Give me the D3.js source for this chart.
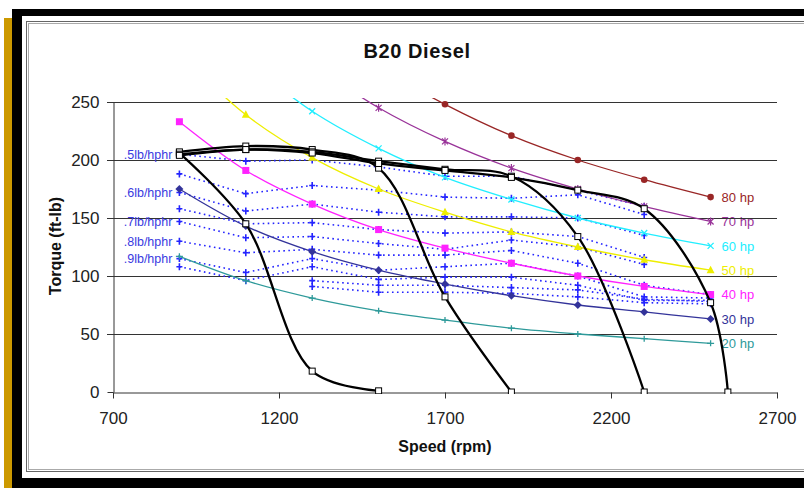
<!DOCTYPE html>
<html><head><meta charset="utf-8">
<script src="https://cdn.jsdelivr.net/npm/d3@7"></script>
<style>
body{margin:0;background:#fff;}
svg{display:block;}
text{font-family:"Liberation Sans",Arial,Helvetica,sans-serif;}
</style>
</head><body>
<svg id="c" width="804" height="488"></svg>
<script>
// ---------- DATA ----------
const rpm = [900,1100,1300,1500,1700,1900,2100,2300,2500];
const xTicks = [700,1200,1700,2200,2700];
const yTicks = [0,50,100,150,200,250];

// constant-horsepower lines (torque, ft-lb); values above 250 lie beyond the plot top
const hpNames = ["80 hp","70 hp","60 hp","50 hp","40 hp","30 hp","20 hp"];
const hp80 = [null,null,null,280,248,221,200,183,168];
const hp70 = [null,null,283,245,216,193,175,160,147];
const hp60 = [null,286,242,210,185,166,150,137,126];
const hp50 = [292,239,202,175,155,138,125,114,105];
const hp40 = [233,191,162,140,124,111,100,91,84];
const hp30 = [175,143,121,105,93,83,75,69,63];
const hp20 = [117,96,81,70,62,55,50,46,42];

// dotted fuel-consumption lines
const bsfc1  = [205,199,200,194,186,186,174,160,null];
const bsfc2  = [188,171,178,174,168,167,170,153,null];
const bsfc3  = [172,156,162,155,151,151,150,135,null];
const bsfc4  = [158,145,146,140,137,138,134,116,null];
const bsfc5  = [147,133,134,128,123,131,125,110,null];
const bsfc6  = [130,120,123,118,118,122,111,92,84];
const bsfc7  = [115,103,115,105,108,111,100,82,81];
const bsfc8  = [108,96,108,97,99,99,92,79,79];
const bsfc9  = [null,null,96,92,92,90,88,80,78];
const bsfc10 = [null,null,91,86,86,85,82,77,76];
const bsfcLabels = [".5lb/hphr",null,".6lb/hphr",null,".7lb/hphr",".8lb/hphr",".9lb/hphr",null,null,null];

// black torque curves
const curveArpm = [900,1100,1300,1500];
const curveAtq  = [206,145,18,1];
const curveBrpm = [900,1100,1300,1500,1700,1900];
const curveBtq  = [207,212,209,193,82,0];
const curveCrpm = [900,1100,1300,1500,1700,1900,2100,2300];
const curveCtq  = [205,209,207,199,192,186,134,0];
const curveDrpm = [900,1100,1300,1500,1700,1900,2100,2300,2500,2552];
const curveDtq  = [204,209,206,197,191,185,174,158,77,0];

// ---------- DRAW ----------
const svg = d3.select("#c");
const x = d3.scaleLinear().domain([700,2700]).range([113,777]);
const y = d3.scaleLinear().domain([0,250]).range([392,102]);

// frame
svg.append("rect").attr("x",4).attr("y",18).attr("width",8).attr("height",470).attr("fill","#cc9900");
svg.append("rect").attr("x",12).attr("y",9).attr("width",792).attr("height",7).attr("fill","#000");
svg.append("rect").attr("x",12).attr("y",9).attr("width",10).attr("height",479).attr("fill","#000");
svg.append("rect").attr("x",12).attr("y",478).attr("width",792).attr("height",10).attr("fill","#000");
svg.append("rect").attr("x",26.5).attr("y",21.5).attr("width",800).attr("height",450).attr("fill","none").attr("stroke","#666");
svg.append("rect").attr("x",28.5).attr("y",23.5).attr("width",800).attr("height",446).attr("fill","none").attr("stroke","#aaa");

// title
svg.append("text").attr("x",417).attr("y",58).attr("text-anchor","middle")
  .attr("font-size",20).attr("font-weight","bold").attr("letter-spacing","0.6px").attr("fill","#111").text("B20 Diesel");

// hp labels (under gridlines)
const hpSeries = [hp80,hp70,hp60,hp50,hp40,hp30,hp20];
const hpColors = ["#992626","#993399","#22eeff","#eeee00","#ff22ff","#33339a","#2e9a9a"];
const hpMarkers = ["circle","star","x","triangle","square","diamond","plus"];
const labG = svg.append("g");
hpSeries.forEach((s,i)=>{
  labG.append("text").attr("x",x(rpm[rpm.length-1])+11).attr("y",y(s[s.length-1])).attr("dy","0.36em")
    .attr("font-size",13).attr("fill",hpColors[i]).text(hpNames[i]);
});

// gridlines
const gridG = svg.append("g");
yTicks.filter(v=>v>0).forEach(v=>{
  gridG.append("line").attr("x1",107).attr("x2",777).attr("y1",Math.round(y(v))+0.5).attr("y2",Math.round(y(v))+0.5)
    .attr("stroke","#333").attr("stroke-width",1);
});

// axes
const yAxis = svg.append("g").attr("transform","translate(113.5,0)")
  .call(d3.axisLeft(y).tickValues(yTicks).tickSize(6).tickSizeOuter(0).tickPadding(8));
const xAxis = svg.append("g").attr("transform","translate(0,392.5)")
  .call(d3.axisBottom(x).tickValues(xTicks).tickSize(6).tickSizeOuter(0).tickPadding(13).tickFormat(d3.format("d")));
[yAxis,xAxis].forEach(a=>{
  a.selectAll("path").attr("stroke","#333");
  a.selectAll("line").attr("stroke","#333");
  a.selectAll("text").attr("font-size",17).attr("fill","#222").attr("font-family","'Liberation Sans',Arial,sans-serif");
});

svg.append("text").attr("x",445).attr("y",452).attr("text-anchor","middle").attr("font-size",16)
  .attr("font-weight","bold").attr("fill","#111").text("Speed (rpm)");
svg.append("text").attr("transform","translate(55,246) rotate(-90)").attr("dy","0.35em").attr("text-anchor","middle")
  .attr("font-size",16).attr("font-weight","bold").attr("fill","#111").text("Torque (ft-lb)");

// clip
svg.append("clipPath").attr("id","pc").append("rect").attr("x",113).attr("y",98).attr("width",670).attr("height",296);
const plot = svg.append("g").attr("clip-path","url(#pc)");

function marker(g,type,cx,cy,color){
  if(type==="circle"){ g.append("circle").attr("cx",cx).attr("cy",cy).attr("r",3.3).attr("fill",color); }
  else if(type==="square"){ g.append("rect").attr("x",cx-3.5).attr("y",cy-3.5).attr("width",7).attr("height",7).attr("fill",color); }
  else if(type==="diamond"){ g.append("path").attr("d",`M${cx},${cy-4}L${cx+4},${cy}L${cx},${cy+4}L${cx-4},${cy}Z`).attr("fill",color); }
  else if(type==="triangle"){ g.append("path").attr("d",`M${cx},${cy-4.5}L${cx+4},${cy+3}L${cx-4},${cy+3}Z`).attr("fill",color); }
  else if(type==="x"){ g.append("path").attr("d",`M${cx-3},${cy-3}L${cx+3},${cy+3}M${cx+3},${cy-3}L${cx-3},${cy+3}`).attr("stroke",color).attr("stroke-width",1.3); }
  else if(type==="star"){ g.append("path").attr("d",`M${cx-3},${cy-3}L${cx+3},${cy+3}M${cx+3},${cy-3}L${cx-3},${cy+3}M${cx},${cy-4}L${cx},${cy+4}`).attr("stroke",color).attr("stroke-width",1.2); }
  else if(type==="plus"){ g.append("path").attr("d",`M${cx-3.5},${cy}L${cx+3.5},${cy}M${cx},${cy-3}L${cx},${cy+3}`).attr("stroke",color).attr("stroke-width",1.3); }
  else if(type==="bplus"){ g.append("path").attr("d",`M${cx-3},${cy}L${cx+3},${cy}M${cx},${cy-3.5}L${cx},${cy+3.5}`).attr("stroke",color).attr("stroke-width",1.6); }
  else if(type==="osq"){ g.append("rect").attr("x",cx-3).attr("y",cy-3).attr("width",6).attr("height",6).attr("fill","#fff").attr("stroke","#000").attr("stroke-width",1); }
}

// dotted bsfc lines
const bsfcSeries = [bsfc1,bsfc2,bsfc3,bsfc4,bsfc5,bsfc6,bsfc7,bsfc8,bsfc9,bsfc10];
const blue = "#2424ff";
const lineLin = d3.line().defined(d=>d[1]!=null).x(d=>x(d[0])).y(d=>y(d[1]));
const bG = plot.append("g");
bsfcSeries.forEach(s=>{
  const pts = rpm.map((r,i)=>[r,s[i]]);
  bG.append("path").attr("d",lineLin(pts)).attr("fill","none").attr("stroke",blue)
    .attr("stroke-width",1.6).attr("stroke-dasharray","1.6,3.4");
  pts.filter(p=>p[1]!=null).forEach(p=>marker(bG,"bplus",x(p[0]),y(p[1]),blue));
});
bsfcSeries.forEach((s,i)=>{
  if(!bsfcLabels[i]) return;
  svg.append("text").attr("x",x(rpm[0])-7).attr("y",y(s[0])).attr("dy","0.36em").attr("text-anchor","end")
    .attr("font-size",12.5).attr("fill","#3a3adf").text(bsfcLabels[i]);
});

// hp lines
const lineSmooth = d3.line().defined(d=>d[1]!=null).x(d=>x(d[0])).y(d=>y(d[1])).curve(d3.curveCatmullRom);
const hG = plot.append("g");
hpSeries.forEach((s,i)=>{
  const pts = rpm.map((r,k)=>[r,s[k]]);
  hG.append("path").attr("d",lineSmooth(pts)).attr("fill","none").attr("stroke",hpColors[i]).attr("stroke-width",1.3);
  pts.filter(p=>p[1]!=null && p[1]<=250).forEach(p=>marker(hG,hpMarkers[i],x(p[0]),y(p[1]),hpColors[i]));
});

// black torque curves
const blackCurves = [[curveArpm,curveAtq],[curveBrpm,curveBtq],[curveCrpm,curveCtq],[curveDrpm,curveDtq]];
const kG = plot.append("g");
blackCurves.forEach(c=>{
  const pts = c[0].map((r,i)=>[r,c[1][i]]);
  kG.append("path").attr("d",lineSmooth(pts)).attr("fill","none").attr("stroke","#000").attr("stroke-width",2.3);
});
blackCurves.forEach(c=>{
  c[0].forEach((r,i)=>marker(kG,"osq",x(r),y(c[1][i]),"#000"));
});
</script>
</body></html>
